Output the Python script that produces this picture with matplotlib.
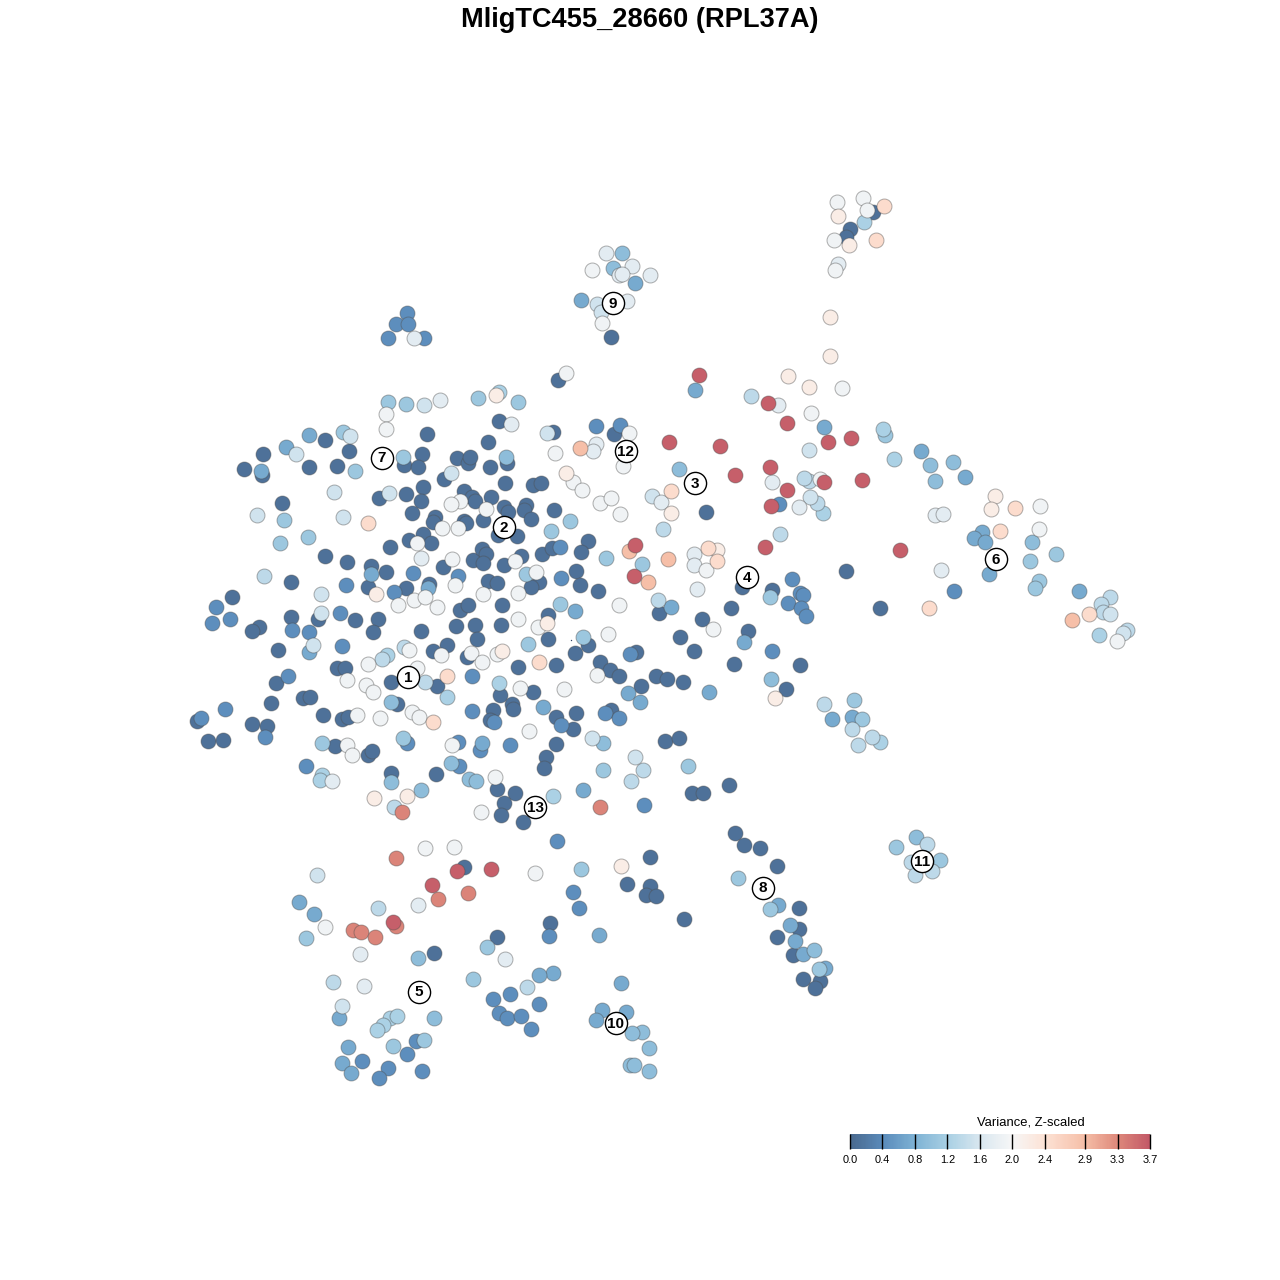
import numpy as np
import matplotlib
matplotlib.use('Agg')
import matplotlib.pyplot as plt
from matplotlib.colors import LinearSegmentedColormap

plt.rcParams['font.family'] = ['Liberation Sans', 'DejaVu Sans']

title = 'MligTC455_28660 (RPL37A)'
legend_title = 'Variance, Z-scaled'

# colour bar
bar_ticks = [0.0, 0.4, 0.8, 1.2, 1.6, 2.0, 2.4, 2.9, 3.3, 3.7]
bar_colors = ['#4a6a8f', '#5b8cbc', '#7fb3d5', '#a9d0e4', '#d9e7f0', '#f7f7f7',
              '#fde3d6', '#f6bfa8', '#df8a7c', '#c35a68']

# cluster labels
cluster_ids = ['1', '2', '3', '4', '5', '6', '7', '8', '9', '10', '11', '12', '13']
cluster_x = [408, 504, 695, 747, 419, 996, 382, 763, 613, 616, 922, 626, 535]
cluster_y = [677, 527, 483, 577, 992, 559, 458, 888, 303, 1023, 861, 451, 807]

# cells in t-SNE space, grouped by variance level
var_levels = [0.1, 0.42, 0.72, 0.95, 1.08, 1.22, 1.37, 1.52, 1.72, 1.9, 2.2, 2.5, 2.9, 3.35, 3.65]

cells_a = [(263,454),(244,469),(262,475),(325,440),(309,467),(337,466),(349,451),(427,434),(422,454),(404,465),
           (418,467),(457,458),(468,463),(470,457),(488,442),(490,467),(444,479),(464,491),(472,497),(475,501),
           (491,497),(379,498),(406,494),(423,487),(421,501),(412,513),(282,503),(435,517),(433,522),(464,521),
           (466,523),(483,520),(423,534),(409,540),(431,543),(390,547),(325,556),(347,562),(371,566),(386,572),
           (443,567),(473,560),(482,549),(486,554),(483,563),(488,581),(497,583),(429,584),(406,588),(368,587),
           (291,582),(232,597),(460,610),(468,605),(378,619),(355,620),(291,617),(318,619),(373,632),(259,627),
           (252,631),(421,631),(456,626),(475,625),(477,639),(447,645),(433,651),(467,657),(278,650),(337,668),
           (345,668),(276,683),(391,682),(437,686),(558,380),(499,421),(553,432),(614,434),(507,463),(505,483),
           (533,485),(541,483),(504,507),(508,512),(526,505),(524,510),(531,519),(554,510),(498,535),(517,536),
           (588,541),(581,552),(542,554),(552,548),(521,556),(504,565),(576,571),(580,585),(598,591),(539,582),
           (531,587),(502,605),(548,615),(501,625),(548,639),(588,645),(575,653),(636,652),(518,667),(556,665),
           (600,662),(610,670),(619,676),(656,676),(667,679),(683,682),(734,664),(694,651),(680,637),(702,619),
           (731,608),(748,631),(659,613),(706,512),(641,686),(533,692),(500,695),(512,704),(513,709),(493,710),
           (490,720),(556,717),(576,713),(573,729),(611,710),(556,744),(546,757),(544,768),(665,741),(679,738),
           (436,774),(497,789),(515,793),(504,803),(501,815),(523,822),(692,793),(703,793),(729,785),(735,833),
           (744,845),(760,848),(650,857),(208,741),(223,740),(197,721),(252,724),(267,726),(271,703),(303,698),
           (310,697),(323,715),(342,719),(348,717),(335,746),(368,755),(372,751),(391,773),(397,704),(464,867),
           (627,884),(650,886),(646,895),(656,896),(684,919),(497,937),(434,953),(846,571),(880,608),(742,587),
           (772,590),(800,665),(786,689),(777,866),(799,908),(799,929),(777,937),(793,955),(803,979),(820,981),
           (815,988),(873,212),(850,229),(846,237),(611,337),(550,923)]
cells_b = [(230,619),(216,607),(212,623),(292,630),(309,632),(340,613),(342,646),(346,585),(394,592),(458,576),
           (472,676),(288,676),(620,425),(596,426),(560,547),(561,578),(472,711),(630,654),(459,766),(480,750),
           (458,742),(407,743),(605,713),(494,722),(510,745),(201,718),(225,709),(265,737),(306,766),(573,892),
           (510,994),(493,999),(539,1004),(499,1013),(507,1018),(521,1016),(531,1029),(416,1041),(407,1054),
           (388,1068),(422,1071),(779,504),(792,579),(800,593),(803,595),(788,603),(801,608),(806,616),(772,651),
           (954,591),(413,573),(619,718),(561,725),(407,313),(396,324),(408,324),(388,338),(424,338),(557,841),
           (644,805),(549,936),(579,908),(362,1061),(379,1078)]
cells_c = [(575,611),(671,607),(744,642),(695,390),(709,692),(628,693),(640,702),(543,707),(482,743),(583,790),
           (599,935),(299,902),(314,914),(553,973),(539,975),(621,983),(602,1010),(626,1012),(596,1020),(339,1018),
           (348,1047),(342,1063),(351,1073),(371,574),(428,588),(309,652),(286,447),(261,471),(309,435),(824,427),
           (921,451),(965,477),(982,532),(974,538),(985,542),(989,574),(1079,591),(778,905),(790,925),(795,941),
           (832,719),(852,717),(825,968),(803,954),(635,283),(581,300)]
cells_d = [(603,743),(469,779),(476,781),(451,763),(391,782),(421,790),(391,702),(418,958),(434,1018),(642,1032),
           (632,1033),(649,1048),(630,1065),(634,1065),(649,1071),(930,465),(953,462),(935,481),(1032,542),(771,679),
           (916,837),(622,253),(613,268),(506,457),(679,469),(814,950)]
cells_e = [(388,402),(406,404),(343,432),(403,457),(355,471),(284,520),(308,537),(280,543),(478,398),(570,521),
           (551,531),(606,558),(642,564),(560,604),(528,644),(583,637),(603,770),(688,766),(322,743),(403,738),
           (473,979),(487,947),(581,869),(306,938),(424,1040),(393,1046),(1056,554),(1030,561),(1039,581),(1035,588),
           (885,435),(854,700),(862,719),(738,878),(770,909),(819,969),(896,847),(940,860),(526,574),(770,597),(518,402)]
cells_f = [(499,392),(553,796),(499,683),(447,697),(322,775),(320,780),(387,655),(864,222),(883,429),(894,459),
           (823,513),(1099,635),(880,742),(390,1018),(397,1016),(383,1025),(377,1030)]
cells_g = [(264,576),(382,659),(404,647),(425,682),(394,807),(643,770),(631,781),(663,529),(658,600),(378,908),
           (333,982),(527,987),(780,534),(817,503),(809,481),(804,478),(751,396),(824,704),(852,729),(872,737),
           (858,745),(927,844),(911,862),(932,871),(915,875),(1110,597),(1101,604),(1103,612),(1127,630)]
cells_h = [(424,405),(350,436),(296,454),(334,492),(389,493),(257,515),(343,517),(313,645),(321,594),(321,613),
           (547,433),(451,473),(652,496),(809,450),(810,497),(1110,614),(1123,633),(317,875),(342,1006),(597,304),
           (601,312),(592,738),(635,757)]
cells_i = [(440,400),(606,253),(632,266),(619,275),(622,274),(650,275),(627,301),(838,264),(661,502),(694,554),
           (694,565),(697,589),(414,338),(778,405),(772,482),(505,959),(364,986),(360,954),(418,905),(941,570),
           (935,515),(943,514),(332,781),(799,507),(596,444),(593,451),(511,424),(421,558)]
cells_j = [(386,414),(386,429),(417,543),(398,605),(414,600),(425,597),(437,607),(441,655),(460,501),(451,504),
           (486,509),(442,528),(458,528),(452,559),(515,561),(536,572),(455,585),(483,594),(518,593),(518,619),
           (538,627),(608,634),(713,629),(597,675),(564,689),(520,688),(529,731),(452,745),(495,777),(481,812),
           (454,847),(471,653),(482,662),(497,654),(368,664),(409,650),(417,668),(347,680),(366,685),(373,692),
           (357,715),(380,718),(412,712),(419,717),(347,745),(352,755),(425,848),(535,873),(325,927),(555,453),
           (573,482),(582,490),(600,503),(611,498),(620,514),(619,605),(623,466),(629,433),(706,570),(592,270),
           (602,323),(837,202),(863,198),(867,210),(834,240),(835,270),(811,413),(820,479),(842,388),(1040,506),
           (1039,529),(1117,641),(566,373)]
cells_k = [(566,473),(502,651),(547,623),(374,798),(407,796),(496,395),(671,513),(621,866),(788,376),(809,387),
           (775,698),(995,496),(991,509),(838,216),(849,245),(830,317),(830,356),(376,594),(717,550)]
cells_l = [(368,523),(671,491),(708,548),(717,561),(539,662),(447,676),(433,722),(1000,531),(929,608),(1089,614),
           (876,240),(884,206),(1015,508)]
cells_m = [(580,448),(629,551),(668,559),(648,582),(1072,620)]
cells_n = [(402,812),(396,858),(438,899),(468,893),(353,930),(361,932),(375,937),(396,926),(600,807)]
cells_o = [(635,545),(634,576),(669,442),(720,446),(735,475),(491,869),(457,871),(432,885),(393,922),(699,375),
           (768,403),(787,423),(828,442),(851,438),(770,467),(824,482),(862,480),(787,490),(771,506),(765,547),(900,550)]

all_cells = [cells_a, cells_b, cells_c, cells_d, cells_e, cells_f, cells_g, cells_h,
             cells_i, cells_j, cells_k, cells_l, cells_m, cells_n, cells_o]

# small stray dot in the middle of the map
speck_x = [571]
speck_y = [640]

cmap = LinearSegmentedColormap.from_list(
    'variance', [(t / bar_ticks[-1], c) for t, c in zip(bar_ticks, bar_colors)])

fig = plt.figure(figsize=(12.8, 12.8), dpi=100)
ax = fig.add_axes([0, 0, 1, 1])
ax.set_xlim(0, 1280)
ax.set_ylim(1280, 0)
ax.axis('off')

for level, cells in zip(var_levels, all_cells):
    xy = np.array(cells)
    ax.scatter(xy[:, 0] + 0.5, xy[:, 1] + 0.5, s=116, c=[level] * len(cells), cmap=cmap,
               vmin=0, vmax=bar_ticks[-1], edgecolors=(0.3, 0.3, 0.3, 0.45), linewidths=0.7)

ax.scatter(speck_x, speck_y, s=1, color='#334466', linewidths=0)

ax.scatter(cluster_x, cluster_y, s=255, color='white', edgecolors='black', linewidths=1.0, zorder=5)
for name, x, y in zip(cluster_ids, cluster_x, cluster_y):
    ax.text(x, y + 0.5, name, ha='center', va='center', fontsize=11, fontweight='bold', zorder=6)

fig.text(0.5, 1 - 20 / 1280, title, ha='center', va='center', fontsize=19.6, fontweight='bold')

# legend bar
cax = fig.add_axes([850 / 1280, 1 - 1149 / 1280, 300 / 1280, 15 / 1280])
gradient = np.linspace(0, bar_ticks[-1], 300).reshape(1, -1)
cax.imshow(gradient, aspect='auto', cmap=cmap, vmin=0, vmax=bar_ticks[-1], extent=[0, bar_ticks[-1], 0, 1])
cax.vlines(bar_ticks, 0, 1, color='black', linewidth=1.0, clip_on=False)
cax.set_xlim(0, bar_ticks[-1])
cax.set_xticks(bar_ticks)
cax.set_xticklabels(['%.1f' % t for t in bar_ticks], fontsize=7.9)
cax.set_yticks([])
cax.tick_params(axis='x', length=0, pad=4.2)
for side in cax.spines.values():
    side.set_visible(False)
fig.text(1031 / 1280, 1 - 1122.5 / 1280, legend_title, ha='center', va='center', fontsize=9.4)

fig.savefig('out.png', dpi=100)
